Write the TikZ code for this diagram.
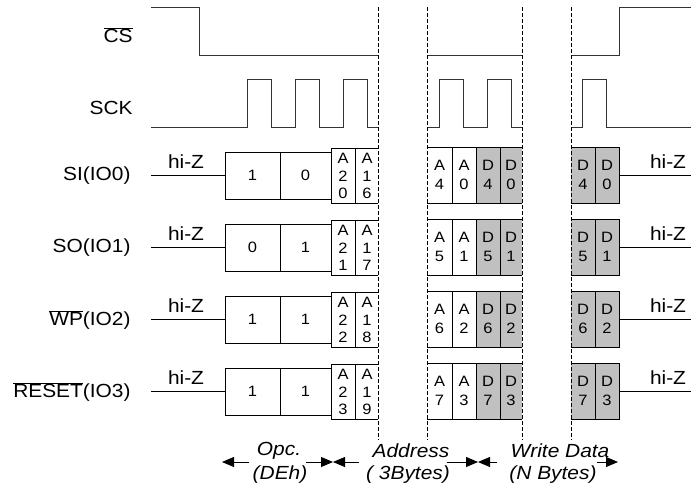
\documentclass[tikz,border=0pt]{standalone}
\usepackage{fontspec}
\setmainfont{Liberation Sans}[FakeStretch=1.1]
\usetikzlibrary{arrows.meta}
\definecolor{boxgray}{RGB}{192,192,192}
\begin{document}
\begin{tikzpicture}[x=1pt,y=-1pt,line width=0.9pt,
  lbl/.style={font=\fontsize{19}{21}\selectfont, inner sep=0pt},
  bit/.style={font=\fontsize{15}{17.5}\selectfont, inner sep=0pt, align=center},
  bit2/.style={font=\fontsize{15}{19.5}\selectfont, inner sep=0pt, align=center},
  note/.style={font=\fontsize{19}{21}\selectfont\itshape, inner sep=0pt},
  wave/.style={black!80, line width=0.9pt},
  guide/.style={black, line width=0.9pt, dash pattern=on 4pt off 2pt},
  span/.style={-{Triangle[length=12pt,width=10pt]}, line width=0.8pt}]
\useasboundingbox (0,0) rectangle (691,487);

% signal names
\node[lbl, anchor=east] (cs) at (133,35) {$\overline{\mbox{CS}}$};
\node[lbl, anchor=east] (sck) at (133,108) {SCK};
\node[lbl, anchor=east] (si) at (131,176) {SI(IO0)};
\node[lbl, anchor=east] (so) at (131,248) {SO(IO1)};
\node[lbl, anchor=east] (wp) at (131,320) {$\overline{\mbox{WP}}$(IO2)};
\node[lbl, anchor=east] (rst) at (131,392) {$\overline{\mbox{RESET}}$(IO3)};

% CS waveform
\draw[wave] (151,7) -- (199,7) -- (199,55) -- (378,55);
\draw[wave] (427,55) -- (522,55);
\draw[wave] (571,55) -- (619,55) -- (619,7) -- (691,7);

% SCK waveform
\draw[wave] (151,127) -- (247,127) -- (247,79) -- (271,79) -- (271,127) -- (295,127) -- (295,79) -- (319,79) -- (319,127) -- (343,127) -- (343,79) -- (367,79) -- (367,127) -- (378,127);
\draw[wave] (427,127) -- (439,127) -- (439,79) -- (463,79) -- (463,127) -- (487,127) -- (487,79) -- (511,79) -- (511,127) -- (522,127);
\draw[wave] (571,127) -- (582,127) -- (582,79) -- (606,79) -- (606,127) -- (691,127);

% data rows
\foreach \r/\ba/\bb/\xa/\xb/\xc/\xd/\p/\q in {0/1/0/2/0/1/6/4/0, 1/0/1/2/1/1/7/5/1, 2/1/1/2/2/1/8/6/2, 3/1/1/2/3/1/9/7/3}{
  \pgfmathsetmacro\y{175+72*\r}
  % hi-Z lines
  \draw (151,\y) -- (225,\y);
  \draw (619,\y) -- (691,\y);
  \node[lbl] (hzl\r) at (186,\y-13) {hi-Z};
  \node[lbl] (hzr\r) at (668,\y-13) {hi-Z};
  % opcode boxes
  \draw (225,\y-23) rectangle (331,\y+24);
  \draw (280,\y-23) -- (280,\y+24);
  \node[bit] (op1\r) at (252.5,\y) {\ba};
  \node[bit] (op2\r) at (305.5,\y) {\bb};
  % high address boxes
  \draw (331,\y-27) -- (378,\y-27) (331,\y+28) -- (378,\y+28)
        (331,\y-27) -- (331,\y+28) (355,\y-27) -- (355,\y+28);
  \node[bit] (ah\r) at (343,\y+1) {A\\\xa\\\xb};
  \node[bit] (al\r) at (367,\y+1) {A\\\xc\\\xd};
  % low address + data boxes
  \fill[boxgray] (476,\y-28) rectangle (522,\y+28);
  \draw (427,\y-28) -- (522,\y-28) (427,\y+28) -- (522,\y+28)
        (452,\y-28) -- (452,\y+28) (476,\y-28) -- (476,\y+28) (500,\y-28) -- (500,\y+28);
  \node[bit2] (a4\r) at (439.5,\y) {A\\\p};
  \node[bit2] (a0\r) at (464,\y) {A\\\q};
  \node[bit2] (d4\r) at (488,\y) {D\\\p};
  \node[bit2] (d0\r) at (511,\y) {D\\\q};
  % last data boxes
  \fill[boxgray] (571,\y-28) rectangle (619,\y+28);
  \draw (571,\y-28) -- (619,\y-28) -- (619,\y+28) -- (571,\y+28)
        (595,\y-28) -- (595,\y+28);
  \node[bit2] (e4\r) at (583,\y) {D\\\p};
  \node[bit2] (e0\r) at (607,\y) {D\\\q};
}

% dashed phase boundaries
\foreach \x in {378,427,522,571}{
  \draw[guide] (\x,7) -- (\x,440);
}

% bottom annotations
\node[note] (opc) at (279,451) {Opc.};
\node[note] (deh) at (280,475) {(DEh)};
\node[note] (adr) at (411,451) {Address};
\node[note] (adb) at (408,475) {( 3Bytes)};
\node[note] (wrd) at (560,451) {Write Data};
\node[note] (wrb) at (553,475) {(N Bytes)};

\coordinate (o1) at (249,462);
\coordinate (o1t) at (222,462);
\coordinate (o2) at (306,462);
\coordinate (o2t) at (333,462);
\coordinate (a1) at (359,462);
\coordinate (a2) at (447,462);
\coordinate (a2t) at (478,462);
\coordinate (w1) at (497,462);
\coordinate (w2) at (597,462);
\coordinate (w2t) at (618,462);
\draw[span] (o1) -- (o1t);
\draw[span] (o2) -- (o2t);
\draw[span] (a1) -- (o2t);
\draw[span] (a2) -- (a2t);
\draw[span] (w1) -- (a2t);
\draw[span] (w2) -- (w2t);
\end{tikzpicture}
\end{document}
